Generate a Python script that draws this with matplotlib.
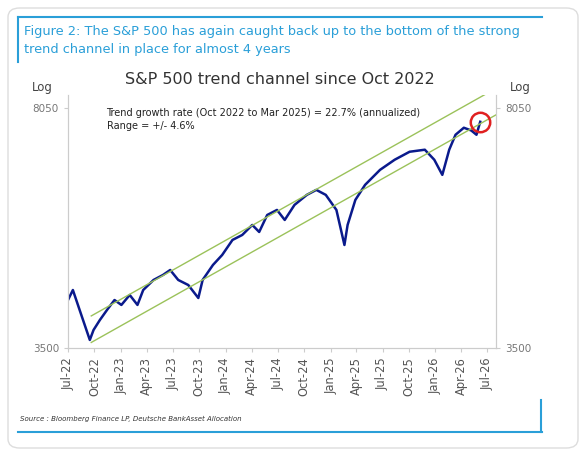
import matplotlib
matplotlib.use("Agg")
import matplotlib.pyplot as plt
from matplotlib.patches import FancyBboxPatch
import numpy as np
import pandas as pd

dates = ["2022-07-01","2022-07-18","2022-08-20","2022-09-15","2022-09-28","2022-10-20","2022-11-15",
         "2022-12-10","2023-01-03","2023-02-01","2023-02-28","2023-03-20","2023-04-25","2023-05-28",
         "2023-06-22","2023-07-20","2023-08-24","2023-09-28","2023-10-13","2023-11-18","2023-12-20",
         "2024-01-25","2024-02-28","2024-04-03","2024-04-27","2024-05-25","2024-06-28","2024-07-25",
         "2024-08-28","2024-10-10","2024-11-12","2024-12-15","2025-01-21","2025-02-18","2025-03-01",
         "2025-03-28","2025-05-01","2025-06-22","2025-08-12","2025-10-03","2025-11-25","2025-12-28",
         "2026-01-25","2026-02-18","2026-03-12","2026-04-10","2026-05-06","2026-05-24","2026-06-06"]
values = [4134,4280,3884,3599,3726,3857,4000,4134,4064,4207,4064,4280,4432,4510,4588,4432,4355,
          4163,4432,4669,4833,5092,5181,5364,5235,5553,5651,5458,5750,5954,6058,5954,5651,5004,
          5364,5850,6165,6494,6726,6915,6964,6726,6382,6964,7335,7516,7444,7335,7673]
trend_growth = 0.227
trend_range = 0.046
trend_start, trend_end = "2022-09-20", "2026-07-31"
trend_base = 3740

fig = plt.figure(figsize=(5.86, 4.54), dpi=100)
blue = "#2a9fd8"
bg = FancyBboxPatch((8/586, 6/454), 570/586, 440/454, boxstyle="round,pad=0,rounding_size=0.02",
                    transform=fig.transFigure, fc="white", ec="#dddddd", lw=1, zorder=-10)
fig.patches.append(bg)
fig.add_artist(plt.Line2D([18/586, 542/586], [1-17/454]*2, color=blue, lw=1.5))
fig.add_artist(plt.Line2D([18/586]*2, [1-17/454, 1-62/454], color=blue, lw=1.5))
fig.add_artist(plt.Line2D([18/586, 542/586], [1-432/454]*2, color=blue, lw=1.5))
fig.add_artist(plt.Line2D([541/586]*2, [1-400/454, 1-432/454], color=blue, lw=1.5))
fig.text(24/586, 1-32/454, "Figure 2: The S&P 500 has again caught back up to the bottom of the strong",
         color=blue, fontsize=9.3, va="center")
fig.text(24/586, 1-50/454, "trend channel in place for almost 4 years", color=blue, fontsize=9.3, va="center")
fig.text(280/586, 1-80/454, "S&P 500 trend channel since Oct 2022", fontsize=11.5, ha="center", va="center", color="#333333")
fig.text(42/586, 1-88/454, "Log", fontsize=8.5, ha="center", va="center", color="#444444")
fig.text(520/586, 1-88/454, "Log", fontsize=8.5, ha="center", va="center", color="#444444")
fig.text(20/586, 1-419/454, "Source : Bloomberg Finance LP, Deutsche BankAsset Allocation", fontsize=5,
         style="italic", va="center", color="#333333")

ax = fig.add_axes([68/586, 1-348/454, 428/586, 253/454])
d = pd.to_datetime(dates)
ax.plot(d, values, color="#0a1a8c", lw=1.8)
td = pd.to_datetime([trend_start, trend_end])
yrs = (td - td[0]).days / 365.25
mid = trend_base * (1 + trend_growth) ** np.asarray(yrs)
ax.plot(td, mid * (1 + trend_range), color="#9bc25a", lw=1)
ax.plot(td, mid * (1 - trend_range), color="#9bc25a", lw=1)
ax.plot(d[-1:], values[-1:], marker="o", ms=14, mfc="none", mec="#e02020", mew=1.8, ls="none")
ax.set_yscale("log")
ax.set_ylim(3500, 8420)
ax.set_xlim(pd.Timestamp("2022-07-01"), pd.Timestamp("2026-07-31"))
ax.set_yticks([3500, 8050]); ax.set_yticklabels(["3500", "8050"])
ax.yaxis.set_minor_locator(matplotlib.ticker.NullLocator())
ticks = pd.date_range("2022-07-01", "2026-07-01", freq="QS-JAN")
ax.set_xticks(ticks)
ax.set_xticklabels([t.strftime("%b-%y") for t in ticks], rotation=90, fontsize=8.3, color="#555555")
ax.tick_params(axis="y", labelsize=7.5, colors="#777777", length=3, color="#cccccc")
ax.tick_params(axis="x", length=3, color="#cccccc")
ax2 = ax.twinx()
ax2.set_yscale("log"); ax2.set_ylim(ax.get_ylim())
ax2.set_yticks([3500, 8050]); ax2.set_yticklabels(["3500", "8050"])
ax2.yaxis.set_minor_locator(matplotlib.ticker.NullLocator())
ax2.tick_params(axis="y", labelsize=7.5, colors="#777777", length=3, color="#cccccc")
for a in (ax, ax2):
    for s in a.spines.values():
        s.set_color("#cccccc")
    a.spines["top"].set_visible(False)
ax.text(0.09, 0.95, "Trend growth rate (Oct 2022 to Mar 2025) = 22.7% (annualized)\nRange = +/- 4.6%",
        transform=ax.transAxes, fontsize=7, va="top", color="#222222", linespacing=1.4)
fig.savefig("out.png", dpi=100)
